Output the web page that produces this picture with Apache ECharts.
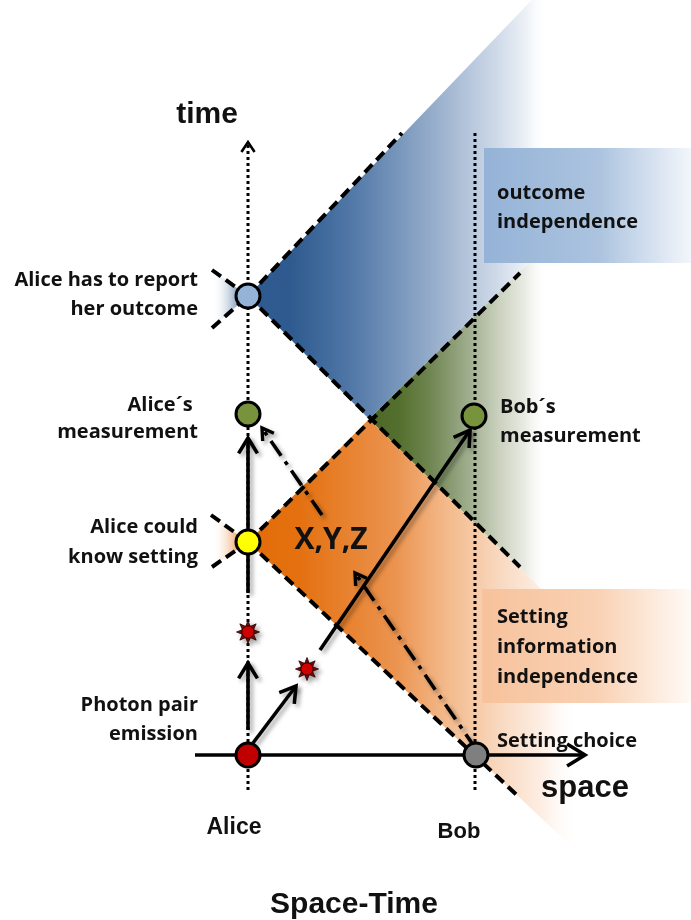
<!DOCTYPE html>
<html><head><meta charset="utf-8">
<script src="https://cdn.jsdelivr.net/npm/echarts@6/dist/echarts.min.js"></script>
<style>html,body{margin:0;padding:0;background:#fff}#c{width:691px;height:920px}</style>
</head><body><div id="c"></div>
<script>
// Space-time coordinates: s = space (Alice = 0, Bob = 227), t = time (photon emission = 0)
const eventNames  = ['Photon pair emission','Setting choice','Alice could know setting','Alice´s measurement','Alice has to report her outcome','Bob´s measurement'];
const eventSpace  = [0, 228, 0, 0, 0, 226];
const eventTime   = [0, 0, 213, 341, 459, 339];
const eventColors = ['#c00000','#7f7f7f','#ffff00','#77933c','#95b3d7','#77933c'];

const photonSpace = [0, 59];
const photonTime  = [123, 86];

// light-cone boundaries [s1, t1, s2, t2]
const coneLines = [
  [0,213, 272,482],
  [-36,188, 0,213],
  [-37,240, 0,213],
  [0,213, 272,-43],
  [0,459, 272,188],
  [-36,485, 0,459],
  [-36,427, 0,459],
  [0,459, 154,622]
];

// regions (vertex lists)
const blueRegion   = [[0,459],[300,772],[443,772],[443,651],[121,336]];
const greenRegion  = [[121,336],[443,651],[443,18]];
const orangeRegion = [[0,213],[121,336],[443,18],[443,-204]];
const blueWedge    = [[0,459],[-36,485],[-36,427]];
const orangeWedge  = [[0,213],[-37,240],[-36,188]];

// solid arrows [s1,t1,s2,t2]
const solidArrows = [
  [-53,0, 337,0],
  [0,25, 0,92],
  [5,12, 48,69],
  [0,162, 0,317],
  [72,105, 222,325]
];
// dash-dot arrows
const dashDotArrows = [
  [228,6, 107,182],
  [74,240, 14,327]
];
// dotted world lines [s1,t1,s2,t2]
const worldLines = [
  [0,-35, 0,613],
  [227,-35, 227,623]
];

// text boxes [s0,t0,s1,t1]
const outcomeBox = [236,607, 443,492];
const settingBox = [234,166, 443,52];

const leftLabels    = ['Alice has to report','her outcome','Alice´s ','measurement','Alice could','know setting','Photon pair','emission'];
const leftLabelTime = [475,446,350,323,228,198,50,21];
const rightLabels     = ['Bob´s','measurement','outcome','independence','Setting','information','independence','Setting choice'];
const rightLabelSpace = [252,252,249,249,249,249,249,249];
const rightLabelTime  = [348,319,562,533,138,108,78,14];
const titleLabels     = ['time','space','Alice','Bob','Space-Time','X,Y,Z'];
const titleLabelSpace = [-41,337,-14,211,106,83];
const titleLabelTime  = [640,-33,-73,-77,-150,215];

// ---------- styles ----------
const regionList = [
  {pts: blueRegion,   g:[0,300], c:[[0,'#2f5b90'],[0.14,'#2e5a8f'],[0.34,'#5077a6'],[0.51,'#7a98bd'],[0.67,'#a4b8d2'],[0.84,'#d2dcea'],[0.93,'#eef2f7'],[1,'rgba(255,255,255,0)']]},
  {pts: greenRegion,  g:[121,300], c:[[0,'#4b6528'],[0.17,'#54702e'],[0.34,'#6f8551'],[0.56,'#a0ae8e'],[0.73,'#cbd2bf'],[0.87,'#e8ebe3'],[1,'rgba(255,255,255,0)']]},
  {pts: orangeRegion, g:[0,330], c:[[0,'#e36c09'],[0.15,'#e4700f'],[0.45,'#eb9450'],[0.6,'#f3b98a'],[0.78,'#f9dcc5'],[0.9,'#fdf0e6'],[1,'rgba(255,255,255,0)']]},
  {pts: blueWedge,    g:[-2,-36], c:[[0,'#2f5b90'],[1,'rgba(255,255,255,0)']]},
  {pts: orangeWedge,  g:[-2,-36], c:[[0,'#e36c09'],[1,'rgba(255,255,255,0)']]}
];
const boxList = [
  {b: outcomeBox, c:[[0,'#95b3d7'],[0.55,'#abc3df'],[1,'#f3f6fb']]},
  {b: settingBox, c:[[0,'#f7c29c'],[0.55,'#f9d1b3'],[1,'#fffaf6']]}
];
const titleFonts = ['bold 30px "Liberation Sans"','bold 31px "Liberation Sans"','bold 23px "Liberation Sans"','bold 22px "Liberation Sans"','bold 30px "Liberation Sans"','bold 30px "Open Sans"'];
const labelFont = 'bold 20px "Open Sans"';
const shadow = {shadowColor:'rgba(0,0,0,0.35)', shadowBlur:4, shadowOffsetX:3, shadowOffsetY:3};

function head(p1, p2, L, ang) {
  const dx = p2[0]-p1[0], dy = p2[1]-p1[1];
  const len = Math.hypot(dx,dy), ux = dx/len, uy = dy/len;
  const c = Math.cos(ang), s = Math.sin(ang);
  const a = [p2[0] - L*(ux*c - uy*s), p2[1] - L*(uy*c + ux*s)];
  const b = [p2[0] - L*(ux*c + uy*s), p2[1] - L*(uy*c - ux*s)];
  return [a, p2, b];
}

const chart = echarts.init(document.getElementById('c'));

const series = [
  { type:'custom', name:'regions', z:1, clip:false, silent:true,
    data: regionList.map(r => r.pts[0]),
    renderItem(params, api) {
      const r = regionList[params.dataIndex];
      const pts = r.pts.map(p => api.coord(p));
      const x0 = api.coord([r.g[0],0])[0], x1 = api.coord([r.g[1],0])[0];
      return {type:'polygon', shape:{points:pts},
        style:{fill: new echarts.graphic.LinearGradient(x0,0,x1,0,r.c.map(s=>({offset:s[0],color:s[1]})),true)}};
    }},
  { type:'custom', name:'boxes', z:2, clip:false, silent:true,
    data: boxList.map(b => [b.b[0], b.b[1]]),
    renderItem(params, api) {
      const b = boxList[params.dataIndex].b;
      const p0 = api.coord([b[0],b[1]]), p1 = api.coord([b[2],b[3]]);
      return {type:'rect', shape:{x:p0[0], y:p0[1], width:p1[0]-p0[0], height:p1[1]-p0[1]},
        style:{fill: new echarts.graphic.LinearGradient(p0[0],0,p1[0],0,
          boxList[params.dataIndex].c.map(s=>({offset:s[0],color:s[1]})),true)}};
    }},
  { type:'custom', name:'world lines', z:3, clip:false, silent:true,
    data: worldLines.map(l => [l[0], l[1]]),
    renderItem(params, api) {
      const l = worldLines[params.dataIndex];
      const p1 = api.coord([l[0],l[1]]), p2 = api.coord([l[2],l[3]]);
      const children = [{type:'line', shape:{x1:p1[0],y1:p1[1],x2:p2[0],y2:p2[1]},
        style:{stroke:'#000', lineWidth:3, lineDash:[3,3]}}];
      if (params.dataIndex === 0) {
        children.push({type:'polyline', shape:{points:head(p1,p2,12,0.58)},
          style:{stroke:'#000', lineWidth:2.6, fill:null}});
      }
      return {type:'group', children};
    }},
  { type:'custom', name:'light cones', z:4, clip:false, silent:true,
    data: coneLines.map(l => [l[0], l[1]]),
    renderItem(params, api) {
      const l = coneLines[params.dataIndex];
      const p1 = api.coord([l[0],l[1]]), p2 = api.coord([l[2],l[3]]);
      return {type:'line', shape:{x1:p1[0],y1:p1[1],x2:p2[0],y2:p2[1]},
        style:{stroke:'#000', lineWidth:4, lineDash:[11,6]}};
    }},
  { type:'custom', name:'arrows', z:5, clip:false, silent:true,
    data: solidArrows.map(l => [l[0], l[1]]),
    renderItem(params, api) {
      const l = solidArrows[params.dataIndex];
      const p1 = api.coord([l[0],l[1]]), p2 = api.coord([l[2],l[3]]);
      const L = params.dataIndex === 0 ? 21 : 18;
      return {type:'group', children:[
        {type:'line', shape:{x1:p1[0],y1:p1[1],x2:p2[0],y2:p2[1]},
          style:Object.assign({stroke:'#000', lineWidth:3.6}, params.dataIndex ? shadow : {})},
        {type:'polyline', shape:{points:head(p1,p2,L,0.55)},
          style:Object.assign({stroke:'#000', lineWidth:3.6, fill:null, lineJoin:'miter'}, params.dataIndex ? shadow : {})}
      ]};
    }},
  { type:'custom', name:'influence', z:5, clip:false, silent:true,
    data: dashDotArrows.map(l => [l[0], l[1]]),
    renderItem(params, api) {
      const l = dashDotArrows[params.dataIndex];
      const p1 = api.coord([l[0],l[1]]), p2 = api.coord([l[2],l[3]]);
      return {type:'group', children:[
        {type:'line', shape:{x1:p1[0],y1:p1[1],x2:p2[0],y2:p2[1]},
          style:Object.assign({stroke:'#000', lineWidth:3.6, lineDash:[18,7,4,7]}, shadow)},
        {type:'polyline', shape:{points:head(p1,p2,13,0.55)},
          style:Object.assign({stroke:'#000', lineWidth:3.4, fill:null}, shadow)}
      ]};
    }},
  { type:'custom', name:'photons', z:6, clip:false, silent:true,
    data: photonSpace.map((s,i) => [s, photonTime[i]]),
    renderItem(params, api) {
      const c = api.coord([api.value(0), api.value(1)]);
      const pts = [];
      for (let k = 0; k < 16; k++) {
        const r = k % 2 ? 6 : 11.5, a = k * Math.PI / 8 - Math.PI/2;
        pts.push([c[0] + r*Math.cos(a), c[1] + r*Math.sin(a)]);
      }
      return {type:'group', children:[
        {type:'polygon', shape:{points:pts}, style:Object.assign({fill:'#7a0c0c', stroke:'#2a0000', lineWidth:0.8}, shadow)},
        {type:'circle', shape:{cx:c[0], cy:c[1], r:6.2}, style:{fill:'#d00000', stroke:'#200', lineWidth:1}}
      ]};
    }},
  { type:'scatter', name:'events', z:7, silent:true, symbol:'circle', symbolSize:24,
    itemStyle:{opacity:1},
    data: eventSpace.map((s,i) => ({value:[s, eventTime[i]], name:eventNames[i],
      itemStyle:{color:eventColors[i], borderColor:'#000', borderWidth:3, opacity:1}}))},
  { type:'custom', name:'labels', z:8, clip:false, silent:true,
    data: leftLabels.map((t,i) => [-50, leftLabelTime[i]])
      .concat(rightLabels.map((t,i) => [rightLabelSpace[i], rightLabelTime[i]]))
      .concat(titleLabels.map((t,i) => [titleLabelSpace[i], titleLabelTime[i]])),
    renderItem(params, api) {
      const i = params.dataIndex;
      const c = api.coord([api.value(0), api.value(1)]);
      let text, font, align;
      if (i < leftLabels.length) { text = leftLabels[i]; font = labelFont; align = 'right'; }
      else if (i < leftLabels.length + rightLabels.length) { text = rightLabels[i-leftLabels.length]; font = labelFont; align = 'left'; }
      else { const j = i - leftLabels.length - rightLabels.length; text = titleLabels[j]; font = titleFonts[j]; align = 'center'; }
      return {type:'text', x:c[0], y:c[1],
        style:{text, font, fill:'#111', align, verticalAlign:'middle'}};
    }}
];

chart.setOption({
  animation:false,
  backgroundColor:'#ffffff',
  grid:{left:0, right:0, top:0, bottom:0},
  xAxis:{type:'value', min:-248, max:443, show:false},
  yAxis:{type:'value', min:-165, max:755, show:false},
  series
});
</script></body></html>
